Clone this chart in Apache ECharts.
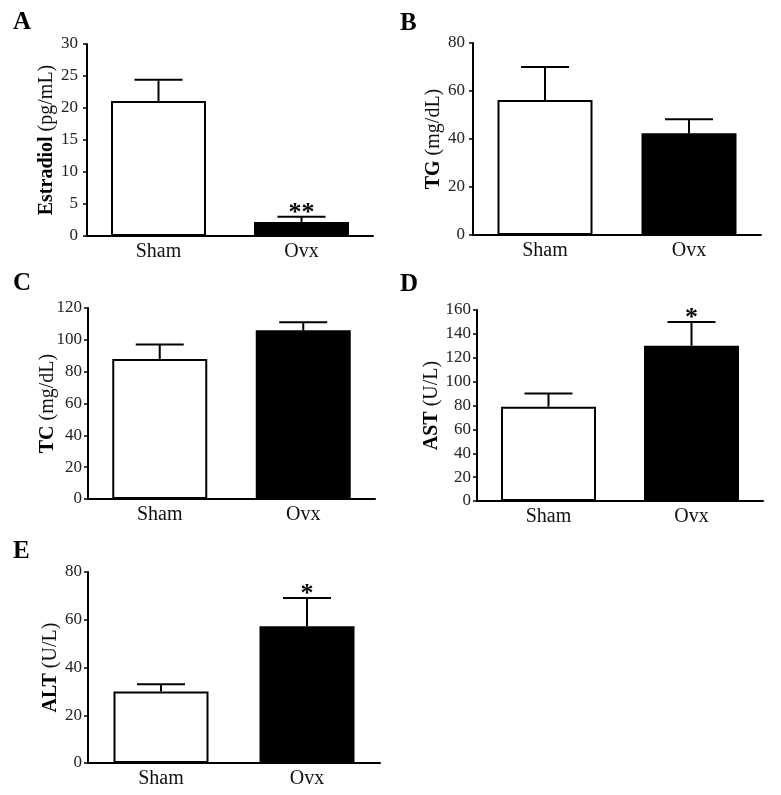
<!DOCTYPE html>
<html>
<head>
<meta charset="utf-8">
<script src="https://cdn.jsdelivr.net/npm/echarts@6/dist/echarts.min.js"></script>
<style>
html,body{margin:0;padding:0;background:#fff;}
#main{width:781px;height:795px;}
</style>
</head>
<body>
<div id="main"></div>
<script>
// ---- data ----
const categories = ['Sham', 'Ovx'];

const estradiolMean = [21.1, 2.2];
const estradiolSem  = [3.3, 0.8];
const estradiolSig  = ['', '**'];
const estradiolTicks = {min: 0, max: 30, interval: 5};

const tgMean = [56.2, 42.4];
const tgSem  = [13.8, 5.8];
const tgSig  = ['', ''];
const tgTicks = {min: 0, max: 80, interval: 20};

const tcMean = [88, 106];
const tcSem  = [9, 5];
const tcSig  = ['', ''];
const tcTicks = {min: 0, max: 120, interval: 20};

const astMean = [79, 130];
const astSem  = [11, 20];
const astSig  = ['', '*'];
const astTicks = {min: 0, max: 160, interval: 20};

const altMean = [30, 57.3];
const altSem  = [3, 11.8];
const altSig  = ['', '*'];
const altTicks = {min: 0, max: 80, interval: 20};

const panelLetters = ['A', 'B', 'C', 'D', 'E'];
const axisNamesBold = ['Estradiol', 'TG', 'TC', 'AST', 'ALT'];
const axisNamesUnit = ['(pg/mL)', '(mg/dL)', '(mg/dL)', '(U/L)', '(U/L)'];

// ---- layout ----
const FONT = '"Liberation Serif", "Times New Roman", serif';
const barFill = ['#ffffff', '#000000'];

const panels = [
  {mean: estradiolMean, sem: estradiolSem, sig: estradiolSig, ticks: estradiolTicks, gap: 30, lm: 9,
   grid: {left: 87, top: 44, width: 286, height: 192}, title: {left: 13, top: 10}},
  {mean: tgMean, sem: tgSem, sig: tgSig, ticks: tgTicks, gap: 29, lm: 8,
   grid: {left: 473, top: 43, width: 288, height: 192}, title: {left: 400, top: 11}},
  {mean: tcMean, sem: tcSem, sig: tcSig, ticks: tcTicks, gap: 30, lm: 6,
   grid: {left: 88, top: 308, width: 287, height: 191}, title: {left: 13, top: 271}},
  {mean: astMean, sem: astSem, sig: astSig, ticks: astTicks, gap: 35, lm: 6,
   grid: {left: 477, top: 310, width: 286, height: 191}, title: {left: 400, top: 272}},
  {mean: altMean, sem: altSem, sig: altSig, ticks: altTicks, gap: 27, lm: 6,
   grid: {left: 88, top: 572, width: 292, height: 191}, title: {left: 13, top: 539}}
];

const option = {
  backgroundColor: '#ffffff',
  animation: false,
  title: [], grid: [], xAxis: [], yAxis: [], series: []
};

panels.forEach((p, i) => {
  option.title.push({
    text: panelLetters[i], left: p.title.left, top: p.title.top, padding: 0,
    textStyle: {fontFamily: FONT, fontSize: 25, fontWeight: 'bold', color: '#000'}
  });
  option.grid.push(Object.assign({containLabel: false}, p.grid));
  option.xAxis.push({
    type: 'category', gridIndex: i, data: categories,
    axisLine: {lineStyle: {color: '#000', width: 2}},
    axisTick: {show: false},
    axisLabel: {fontFamily: FONT, fontSize: 20, color: '#111', margin: 6},
    splitLine: {show: false}
  });
  option.yAxis.push({
    type: 'value', gridIndex: i,
    min: p.ticks.min, max: p.ticks.max, interval: p.ticks.interval,
    name: '{b|' + axisNamesBold[i] + '} ' + axisNamesUnit[i],
    nameLocation: 'middle', nameRotate: 90, nameGap: p.gap, nameMoveOverlap: false,
    nameTextStyle: {
      fontFamily: FONT, fontSize: 20, color: '#111',
      rich: {b: {fontFamily: FONT, fontSize: 20, fontWeight: 'bold', color: '#000'}}
    },
    axisLine: {show: true, lineStyle: {color: '#000', width: 2}},
    axisTick: {show: true, length: 4, lineStyle: {color: '#000', width: 1.5}},
    axisLabel: {fontFamily: FONT, fontSize: 17, color: '#222', margin: p.lm},
    splitLine: {show: false}
  });
  option.series.push({
    type: 'bar', xAxisIndex: i, yAxisIndex: i, barWidth: 95,
    data: p.mean.map((v, k) => ({
      value: v,
      itemStyle: {color: barFill[k], borderColor: '#000', borderWidth: 2}
    })),
    z: 2
  });
  const sig = p.sig;
  option.series.push({
    type: 'custom', xAxisIndex: i, yAxisIndex: i, z: 5,
    data: p.mean.map((v, k) => [k, v, p.sem[k]]),
    renderItem: function (params, api) {
      const k = api.value(0), m = api.value(1), s = api.value(2);
      const a = api.coord([k, m]);
      const b = api.coord([k, m + s]);
      const half = 24;
      const style = {stroke: '#000', lineWidth: 2};
      const children = [
        {type: 'line', shape: {x1: a[0], y1: a[1], x2: b[0], y2: b[1]}, style: style},
        {type: 'line', shape: {x1: b[0] - half, y1: b[1], x2: b[0] + half, y2: b[1]}, style: style}
      ];
      const t = sig[params.dataIndex];
      if (t) {
        children.push({
          type: 'text',
          style: {text: t, x: b[0], y: b[1] + 9, align: 'center', verticalAlign: 'bottom',
                  font: 'bold 26px ' + FONT, fill: '#000'}
        });
      }
      return {type: 'group', children: children};
    }
  });
});

const chart = echarts.init(document.getElementById('main'), null, {renderer: 'canvas'});
chart.setOption(option);
</script>
</body>
</html>
